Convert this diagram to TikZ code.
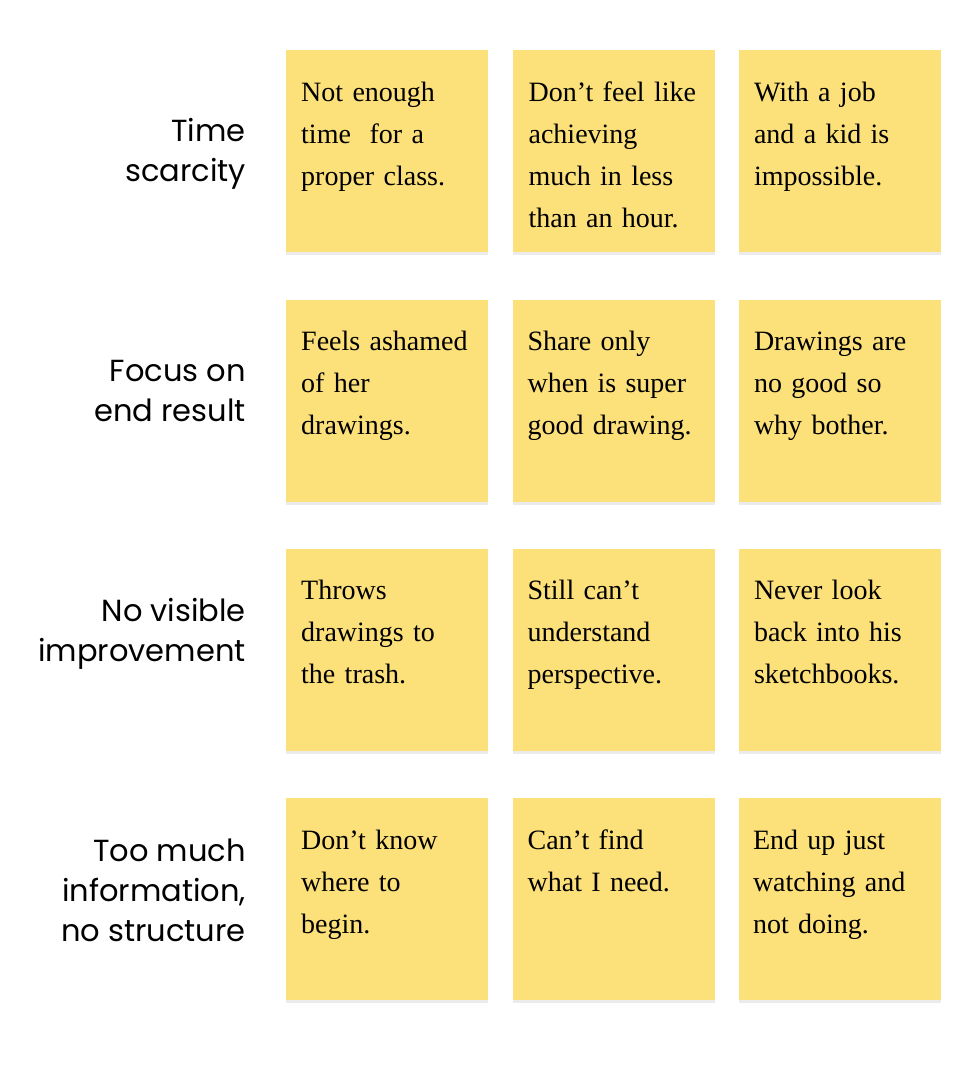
\documentclass[tikz,border=0pt]{standalone}
\usepackage{fontspec}
\setmainfont{Liberation Serif}
\newfontfamily\labelfont{Poppins}
\usepackage{xcolor}
\usetikzlibrary{positioning,shadows}

\definecolor{stickyyellow}{RGB}{252,224,122}

\begin{document}
\begin{tikzpicture}[
  x=1pt, y=-1pt,
  node distance=47pt and 24pt,
  note/.style={rectangle, fill=stickyyellow, minimum width=202pt,
               minimum height=202pt, inner sep=0pt,
               drop shadow={shadow xshift=0pt, shadow yshift=-3pt,
                            opacity=0.08, fill=black}},
  txt/.style={anchor=base west, inner sep=0pt, text width=190pt, align=left,
              font=\fontsize{28}{42}\selectfont},
  cat/.style={anchor=base east, inner sep=0pt, align=right,
              font=\labelfont\fontsize{30.5}{40}\selectfont}
]
\useasboundingbox (0,0) rectangle (960,1080);

%% Sticky notes grid
\node[note, anchor=north west] (n11) at (286,50) {};
\node[note, right=of n11] (n12) {};
\node[note, right=of n12] (n13) {};
\node[note, below=of n11] (n21) {};
\node[note, right=of n21] (n22) {};
\node[note, right=of n22] (n23) {};
\node[note, below=of n21] (n31) {};
\node[note, right=of n31] (n32) {};
\node[note, right=of n32] (n33) {};
\node[note, below=of n31] (n41) {};
\node[note, right=of n41] (n42) {};
\node[note, right=of n42] (n43) {};

%% Note texts
\node[txt] (t11) at ([shift={(15,51)}]n11.north west) {Not enough\\time\ \ for a\\proper class.};
\node[txt] (t12) at ([shift={(16,51)}]n12.north west) {Don’t feel like\\achieving\\much in less\\than an hour.};
\node[txt] (t13) at ([shift={(15,51)}]n13.north west) {With a job\\and a kid is\\impossible.};
\node[txt] (t21) at ([shift={(15,51)}]n21.north west) {Feels ashamed\\of her\\drawings.};
\node[txt] (t22) at ([shift={(15,51)}]n22.north west) {Share only\\when is super\\good drawing.};
\node[txt] (t23) at ([shift={(15,51)}]n23.north west) {Drawings are\\no good so\\why bother.};
\node[txt] (t31) at ([shift={(15,51)}]n31.north west) {Throws\\drawings to\\the trash.};
\node[txt] (t32) at ([shift={(15,51)}]n32.north west) {Still can’t\\understand\\perspective.};
\node[txt] (t33) at ([shift={(15,51)}]n33.north west) {Never look\\back into his\\sketchbooks.};
\node[txt] (t41) at ([shift={(15,51)}]n41.north west) {Don’t know\\where to\\begin.};
\node[txt] (t42) at ([shift={(15,51)}]n42.north west) {Can’t find\\what I need.};
\node[txt] (t43) at ([shift={(14,51)}]n43.north west) {End up just\\watching and\\not doing.};

%% Row categories (base = last line)
\node[cat] (c1) at (246,181) {Time\\scarcity};
\node[cat] (c2) at (246,421) {Focus on\\end result};
\node[cat] (c3) at (246,661) {No visible\\improvement};
\node[cat] (c4) at (246,941) {Too much\\information,\\no structure};

\end{tikzpicture}
\end{document}
